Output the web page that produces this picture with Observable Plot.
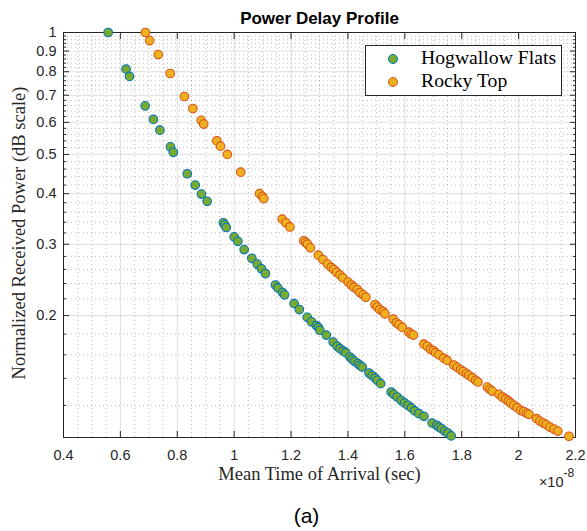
<!DOCTYPE html>
<html>
<head>
<meta charset="utf-8">
<script src="https://cdn.jsdelivr.net/npm/d3@7"></script>
<script src="https://cdn.jsdelivr.net/npm/@observablehq/plot@0.6"></script>
<style>
html, body { margin: 0; padding: 0; background: #fff; }
#wrap { position: relative; width: 587px; height: 531px; }
#legend { position: absolute; left: 365px; top: 45px; width: 195px; height: 49px; border: 1px solid #262626; background: #fff; font-family: "Liberation Serif", "Times New Roman", serif; font-size: 19.7px; color: #000; }
#legend .mk { position: absolute; width: 8px; height: 8px; border-radius: 50%; border: 1px solid; left: 22px; }
#legend .lb { position: absolute; left: 55px; line-height: 19.5px; white-space: nowrap; }
</style>
</head>
<body>
<div id="wrap"></div>
<script>
// ---- data (x in units of 1e-8 s) ----
const seriesNames = ["Hogwallow Flats", "Rocky Top"];
const hogX = [0.557,0.620,0.632,0.687,0.716,0.739,0.776,0.786,0.835,0.863,0.885,0.905,0.962,0.967,0.972,1.000,1.013,1.035,1.062,1.081,1.096,1.110,1.145,1.154,1.170,1.177,1.211,1.229,1.257,1.272,1.289,1.296,1.301,1.324,1.348,1.362,1.372,1.383,1.392,1.407,1.415,1.423,1.435,1.442,1.450,1.474,1.485,1.495,1.503,1.515,1.552,1.561,1.573,1.587,1.599,1.611,1.623,1.635,1.649,1.667,1.696,1.712,1.720,1.729,1.740,1.751,1.763];
const hogY = [1.000,0.812,0.779,0.659,0.610,0.574,0.522,0.506,0.448,0.420,0.399,0.383,0.339,0.335,0.330,0.313,0.305,0.291,0.277,0.268,0.261,0.254,0.238,0.234,0.228,0.225,0.214,0.207,0.198,0.193,0.189,0.187,0.184,0.179,0.172,0.168,0.1657,0.1636,0.162,0.158,0.156,0.1542,0.1522,0.1508,0.1493,0.1443,0.1422,0.1403,0.1384,0.1358,0.1295,0.1278,0.1259,0.1235,0.1217,0.1201,0.1183,0.1163,0.1146,0.1128,0.1086,0.1072,0.1061,0.1052,0.1037,0.1026,0.1009];
const rockyX = [0.688,0.703,0.733,0.775,0.825,0.855,0.884,0.893,0.939,0.952,0.976,1.023,1.089,1.099,1.104,1.169,1.182,1.196,1.245,1.252,1.258,1.268,1.296,1.312,1.328,1.341,1.350,1.360,1.372,1.382,1.401,1.412,1.421,1.433,1.442,1.454,1.463,1.495,1.503,1.512,1.523,1.530,1.559,1.570,1.579,1.591,1.614,1.622,1.630,1.667,1.679,1.690,1.700,1.708,1.720,1.737,1.749,1.772,1.784,1.796,1.805,1.817,1.825,1.837,1.849,1.857,1.890,1.899,1.907,1.931,1.943,1.954,1.964,1.972,1.983,1.995,2.007,2.018,2.028,2.036,2.063,2.075,2.087,2.097,2.110,2.124,2.138,2.177];
const rockyY = [1.000,0.955,0.882,0.792,0.695,0.649,0.607,0.594,0.540,0.524,0.500,0.452,0.400,0.394,0.389,0.346,0.339,0.331,0.306,0.303,0.300,0.294,0.282,0.275,0.268,0.263,0.260,0.256,0.252,0.248,0.242,0.238,0.235,0.232,0.228,0.225,0.222,0.213,0.210,0.207,0.205,0.202,0.196,0.192,0.190,0.187,0.182,0.180,0.179,0.170,0.168,0.165,0.164,0.162,0.160,0.157,0.155,0.151,0.149,0.147,0.1455,0.1438,0.1424,0.1405,0.1384,0.1371,0.1332,0.1315,0.1302,0.1278,0.1259,0.1245,0.1231,0.1217,0.1201,0.1185,0.1167,0.1159,0.1149,0.1141,0.1113,0.1098,0.1086,0.1076,0.1061,0.1049,0.1037,0.1007];
const xTicks = [0.4,0.6,0.8,1.0,1.2,1.4,1.6,1.8,2.0,2.2];
const yTicks = [0.2,0.3,0.4,0.5,0.6,0.7,0.8,0.9,1];
const titleText = "Power Delay Profile";
const xLabel = "Mean Time of Arrival (sec)";
const yLabel = "Normalized Received Power (dB scale)";
const expBase = "\u00d710";
const expPow = "-8";
const caption = "(a)";

const hog = hogX.map((x, i) => ({x, y: hogY[i]}));
const rocky = rockyX.map((x, i) => ({x, y: rockyY[i]}));
const xMinor = d3.range(8, 45).filter(v => v % 4 !== 0).map(v => v * 0.05);
const yMinor = d3.range(10, 100, 2).filter(v => v % 10 !== 0 && v > 10).map(v => v / 100);

const axisCol = "#262626";
const fmt = d => String(+d.toFixed(1));
const serif = "'Liberation Serif', 'Times New Roman', serif";
const noText = () => "";

const chart = Plot.plot({
  width: 587, height: 531,
  marginLeft: 63, marginRight: 12, marginTop: 32, marginBottom: 94,
  style: {fontFamily: "'Liberation Sans', Arial, sans-serif", fontSize: "14.5px", color: axisCol, background: "#fff"},
  x: {domain: [0.4, 2.2], axis: null},
  y: {type: "log", domain: [0.1, 1], axis: null},
  marks: [
    Plot.gridX(xMinor, {stroke: axisCol, strokeOpacity: 0.3, strokeDasharray: "1 3"}),
    Plot.gridY(yMinor, {stroke: axisCol, strokeOpacity: 0.3, strokeDasharray: "1 3"}),
    Plot.gridX(xTicks, {stroke: axisCol, strokeOpacity: 0.15}),
    Plot.gridY(yTicks, {stroke: axisCol, strokeOpacity: 0.15}),
    Plot.axisX(xTicks, {anchor: "bottom", label: null, tickSize: 0, tickPadding: 12.5, tickFormat: fmt, fontSize: 14.5}),
    Plot.axisY(yTicks, {anchor: "left", label: null, tickSize: 0, tickPadding: 7, tickFormat: fmt, fontSize: 14.5}),
    Plot.axisX(xTicks, {anchor: "bottom", label: null, tickSize: -6, tickFormat: noText, stroke: axisCol}),
    Plot.axisX(xTicks, {anchor: "top", label: null, tickSize: -6, tickFormat: noText, stroke: axisCol}),
    Plot.axisY(yTicks, {anchor: "left", label: null, tickSize: -6, tickFormat: noText, stroke: axisCol}),
    Plot.axisY(yTicks, {anchor: "right", label: null, tickSize: -6, tickFormat: noText, stroke: axisCol}),
    Plot.axisY(yMinor, {anchor: "left", label: null, tickSize: -3, tickFormat: noText, stroke: axisCol}),
    Plot.axisY(yMinor, {anchor: "right", label: null, tickSize: -3, tickFormat: noText, stroke: axisCol}),
    Plot.frame({stroke: axisCol, strokeWidth: 1}),
    Plot.dot(hog, {x: "x", y: "y", r: 4.3, fill: "#77AC30", stroke: "#0072BD", strokeWidth: 1.1}),
    Plot.dot(rocky, {x: "x", y: "y", r: 4.3, fill: "#EDB120", stroke: "#D95319", strokeWidth: 1.1}),
    Plot.text([titleText], {text: d => d, frameAnchor: "top", textAnchor: "middle", dy: -14, lineAnchor: "middle", fontWeight: "bold", fontSize: 17, fill: "#000"}),
    Plot.text([xLabel], {text: d => d, frameAnchor: "bottom", textAnchor: "middle", dy: 36.5, lineAnchor: "middle", fontFamily: serif, fontSize: 18.5, fill: axisCol}),
    Plot.text([yLabel], {text: d => d, frameAnchor: "left", textAnchor: "middle", dx: -44.5, dy: -2, rotate: -90, lineAnchor: "middle", fontFamily: serif, fontSize: 18.5, fill: axisCol}),
    Plot.text([expBase], {text: d => d, frameAnchor: "bottom-right", textAnchor: "end", dx: -12, dy: 45, lineAnchor: "middle", fontSize: 14.5, fill: axisCol}),
    Plot.text([expPow], {text: d => d, frameAnchor: "bottom-right", textAnchor: "start", dx: -12, dy: 36, lineAnchor: "middle", fontSize: 12, fill: axisCol}),
    Plot.text([caption], {text: d => d, frameAnchor: "bottom", textAnchor: "middle", dx: -13, dy: 79, lineAnchor: "middle", fontSize: 21, fill: "#000"})
  ]
});

const wrap = document.getElementById("wrap");
wrap.appendChild(chart);

const legend = document.createElement("div");
legend.id = "legend";
const entries = [
  {name: seriesNames[0], fill: "#77AC30", stroke: "#0072BD"},
  {name: seriesNames[1], fill: "#EDB120", stroke: "#D95319"}
];
entries.forEach((e, i) => {
  const mk = document.createElement("span");
  mk.className = "mk";
  mk.style.top = (8 + i * 23) + "px";
  mk.style.background = e.fill;
  mk.style.borderColor = e.stroke;
  legend.appendChild(mk);
  const lb = document.createElement("span");
  lb.className = "lb";
  lb.style.top = (1.7 + i * 23) + "px";
  lb.textContent = e.name;
  legend.appendChild(lb);
});
wrap.appendChild(legend);
</script>
</body>
</html>
